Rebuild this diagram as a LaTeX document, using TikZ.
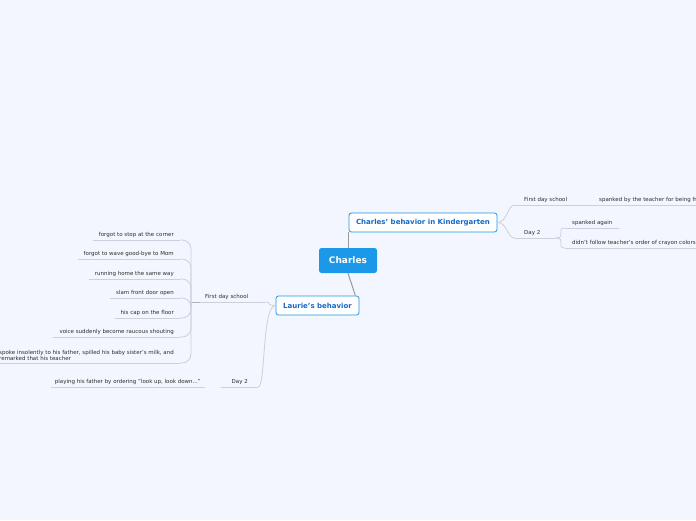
\documentclass[tikz,border=0pt]{standalone}
\usepackage{fontspec}
\setmainfont{DejaVu Sans}
\usetikzlibrary{positioning,calc}

\definecolor{bgblue}{RGB}{243,246,254}
\definecolor{mainblue}{RGB}{28,152,232}
\definecolor{topicblue}{RGB}{22,104,196}
\definecolor{linegray}{RGB}{204,208,218}
\definecolor{textgray}{RGB}{45,45,45}

\tikzset{
  central/.style={fill=mainblue, rounded corners=2.5pt, text=white,
    font=\fontsize{9}{10}\selectfont\bfseries, minimum width=58pt, minimum height=25pt},
  topic/.style={draw=mainblue, fill=white, rounded corners=2.5pt, line width=0.8pt,
    text=topicblue, font=\fontsize{7}{8}\selectfont\bfseries, minimum height=19pt},
  leaf/.style={text=textgray, font=\fontsize{5.5}{6.3}\selectfont, inner ysep=2.4pt},
  branch/.style={draw=linegray, line width=0.8pt},
  link/.style={draw=black!40, line width=1pt},
}

\begin{document}
\begin{tikzpicture}[x=1pt,y=-1pt]
\fill[bgblue] (0,0) rectangle (696,520);
\clip (0,0) rectangle (696,520);

% Main topics
\node[central] (charles) at (348,260.5) {Charles};
\node[topic, minimum width=148pt] (kg) at (423,222.5) {Charles' behavior in Kindergarten};
\node[topic, minimum width=83pt] (laurie) at (317.5,305.5) {Laurie's behavior};
\draw[link] (charles.north) -- (charles.north |- kg.south);
\draw[link] (charles.south) -- ([xshift=-4pt]laurie.north east);

% Kindergarten branch
\node[leaf, anchor=south west, inner xsep=9pt] (fdsR) at (515,205) {First day school};
\node[leaf, anchor=south west, inner xsep=9pt] (spanked) at (590,205) {spanked by the teacher for being fresh};
\node[leaf, anchor=south west, inner xsep=9pt, text width=22pt, align=left] (dayR) at (515,238) {Day 2};
\node[leaf, anchor=south west, inner xsep=7pt] (again) at (565,228) {spanked again};
\node[leaf, anchor=south west, inner xsep=7pt] (crayon) at (565,248) {didn't follow teacher's order of crayon colors};
\foreach \n in {fdsR,spanked,dayR,again,crayon}
  \draw[branch] (\n.south west) -- (\n.south east);
\draw[branch] (kg.east) .. controls +(10,0) and +(-8,0) .. (fdsR.south west);
\draw[branch] (kg.east) .. controls +(10,0) and +(-8,0) .. (dayR.south west);
\draw[branch] (fdsR.south east) -- (spanked.south west);
\draw[branch] (dayR.south east) .. controls +(12,0) and +(-10,0) .. (again.south west);
\draw[branch] (dayR.south east) .. controls +(12,0) and +(-10,0) .. (crayon.south west);

% Laurie branch
\coordinate (joint) at (191,302);
\node[leaf, anchor=south west, inner xsep=5pt, text width=55pt, align=left] (fdsL) at (200,302) {First day school};
\node[leaf, anchor=south east, inner xsep=10pt] (dayL) at (258,387) {Day 2};
\node[leaf, anchor=south east, inner xsep=4pt] (play) at (205,387) {playing his father by ordering "look up, look down..."};
\draw[branch] (fdsL.south west) -- (fdsL.south east);
\draw[link, draw=black!30] (joint) -- (fdsL.south west);
\draw[branch] (dayL.south west) -- (dayL.south east);
\draw[branch] (play.south west) -- (play.south east);
\draw[branch] (laurie.west) .. controls +(-10,0) and +(6,0) .. (fdsL.south east);
\draw[branch] (laurie.west) .. controls +(-14,0) and +(8,0) .. (dayL.south east);

\foreach \n/\y/\txt in {c1/240/forgot to stop at the corner,
                        c2/259/forgot to wave good-bye to Mom,
                        c3/279/running home the same way,
                        c4/298/slam front door open,
                        c5/318/his cap on the floor,
                        c6/337/voice suddenly become raucous shouting} {
  \node[leaf, anchor=south east, inner xsep=6pt] (\n) at (180,\y) {\txt};
  \draw[branch] (\n.south west) -- (\n.south east);
  \draw[branch, rounded corners=9pt] (\n.south east) -| (joint);
}
\node[leaf, anchor=south east, inner xsep=6pt, align=left] (c7) at (180,363)
  {spoke insolently to his father, spilled his baby sister's milk, and\\remarked that his teacher};
\draw[branch] (c7.south west) -- (c7.south east);
\draw[branch, rounded corners=9pt] (c7.south east) -| (joint);
\end{tikzpicture}
\end{document}
